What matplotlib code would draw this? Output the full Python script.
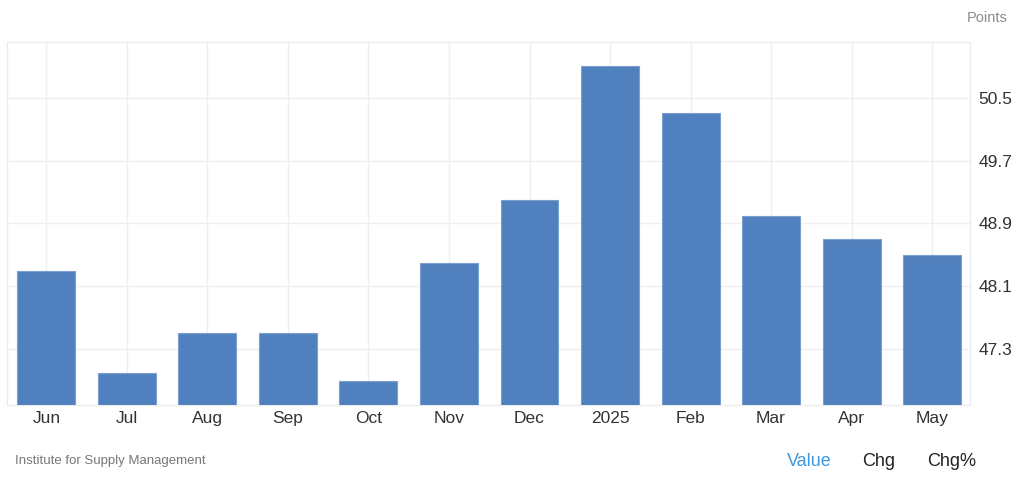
import matplotlib.pyplot as plt

plt.rcParams['font.family'] = ['Liberation Sans', 'DejaVu Sans']

# ISM manufacturing PMI
months = ["Jun", "Jul", "Aug", "Sep", "Oct", "Nov", "Dec", "2025", "Feb", "Mar", "Apr", "May"]
values = [48.3, 47.0, 47.5, 47.5, 46.9, 48.4, 49.2, 50.9, 50.3, 49.0, 48.7, 48.5]
yticks = [47.3, 48.1, 48.9, 49.7, 50.5]

fig = plt.figure(figsize=(10.24, 4.82), dpi=100)
ax = fig.add_axes([0.0068, 0.1598, 0.9404, 0.7531])

x = range(len(months))
base = 46.59
ax.bar(x, [v - base for v in values], bottom=base, width=0.72,
       color='#5080bd', edgecolor='#7aa0d0', linewidth=0.8, zorder=3)

ax.set_xlim(-0.49, 11.47)
ax.set_ylim(base, 51.21)
ax.set_xticks(list(x))
ax.set_xticklabels(months)
ax.set_yticks(yticks)
ax.set_yticklabels([f"{t:.1f}" for t in yticks])
ax.yaxis.tick_right()
ax.tick_params(axis='x', length=0, pad=4, labelsize=12.5, labelcolor='#333333')
ax.tick_params(axis='y', length=0, pad=6, labelsize=12.5, labelcolor='#333333')

ax.grid(True, color='#efefef', linewidth=1, zorder=0)
for s in ax.spines.values():
    s.set_color('#ececec')
    s.set_linewidth(1)

fig.text(0.984, 0.963, "Points", ha='right', va='center', fontsize=10.5, color='#8a8a8a')
fig.text(0.015, 0.043, "Institute for Supply Management", ha='left', va='center',
         fontsize=9.5, color='#777777')
fig.text(0.790, 0.043, "Value", ha='center', va='center', fontsize=13, color='#3d9ae0')
fig.text(0.858, 0.043, "Chg", ha='center', va='center', fontsize=13, color='#222222')
fig.text(0.929, 0.043, "Chg%", ha='center', va='center', fontsize=13, color='#222222')

fig.savefig("out.png", dpi=100, facecolor='white')
